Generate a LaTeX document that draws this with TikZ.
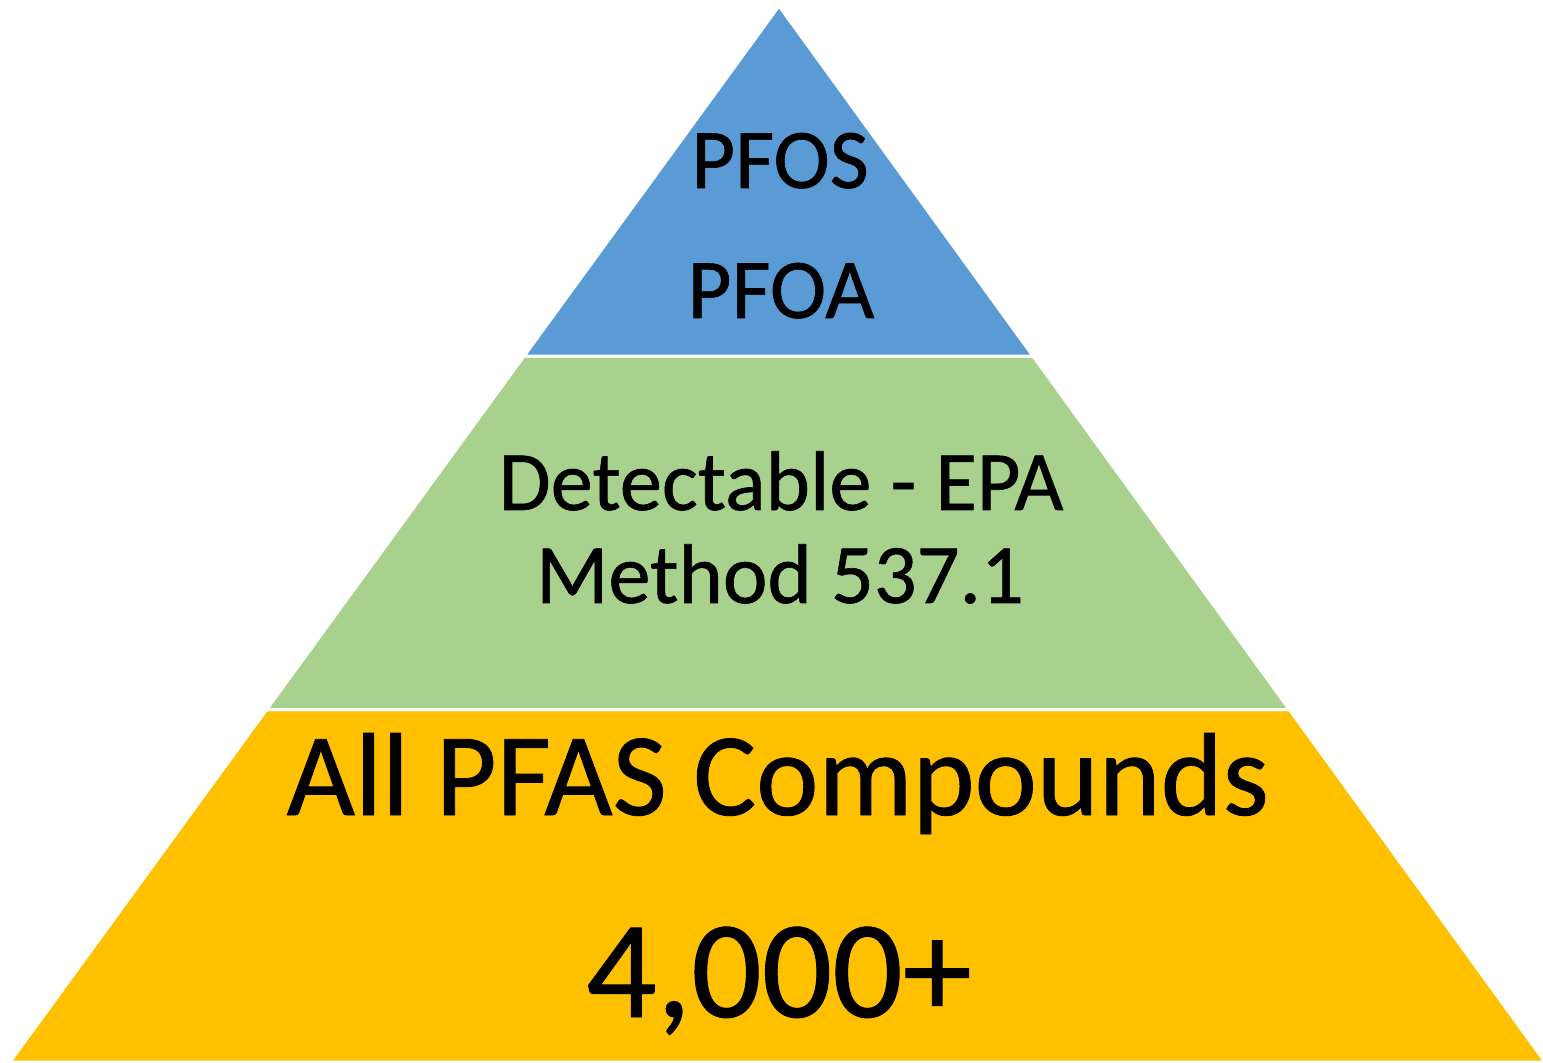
\documentclass[tikz,border=0pt]{standalone}
\usepackage{fontspec}
\setmainfont{Carlito}[FakeBold=0.7]
\usetikzlibrary{calc}

\definecolor{tierblue}{HTML}{5B9BD5}
\definecolor{tiergreen}{HTML}{A9D18E}
\definecolor{tiergold}{HTML}{FFC000}

\begin{document}
\begin{tikzpicture}[x=0.5pt,y=-0.5pt]
\tikzset{tier/.style={draw=white,line width=1.5pt,line join=miter},
  lbl/.style={anchor=base,inner sep=0pt,text=black}}
\useasboundingbox (0,0) rectangle (1543,1063);
% corners of the pyramid
\coordinate (apex) at (779,6);
\coordinate (bl) at (10,1062);
\coordinate (br) at (1545,1062);
\coordinate (l1) at ($(apex)!0.3316!(bl)$);
\coordinate (r1) at ($(apex)!0.3316!(br)$);
\coordinate (l2) at ($(apex)!0.6663!(bl)$);
\coordinate (r2) at ($(apex)!0.6663!(br)$);
% tiers
\fill [tiergold,tier] (l2) -- (r2) -- (br) -- (bl) -- cycle;
\fill [tiergreen,tier] (l1) -- (r1) -- (r2) -- (l2) -- cycle;
\fill [tierblue,tier] (apex) -- (r1) -- (l1) -- cycle;
% labels
\node [lbl,font=\fontsize{42.5pt}{42.5pt}\selectfont] (pfos) at (780,188) {PFOS};
\node [lbl,font=\fontsize{42.5pt}{42.5pt}\selectfont] (pfoa) at (781,318) {PFOA};
\node [lbl,font=\fontsize{42.3pt}{42.3pt}\selectfont] (detect) at (781,510) {Detectable - EPA};
\node [lbl,font=\fontsize{42.3pt}{42.3pt}\selectfont] (method) at (780,603) {Method 537.1};
\node [lbl,font=\fontsize{59pt}{59pt}\selectfont] (all) at (778,815) {All PFAS Compounds};
\node [lbl,font=\fontsize{69.5pt}{69.5pt}\selectfont] (count) at (779,1017) {4,000+};
\end{tikzpicture}
\end{document}
